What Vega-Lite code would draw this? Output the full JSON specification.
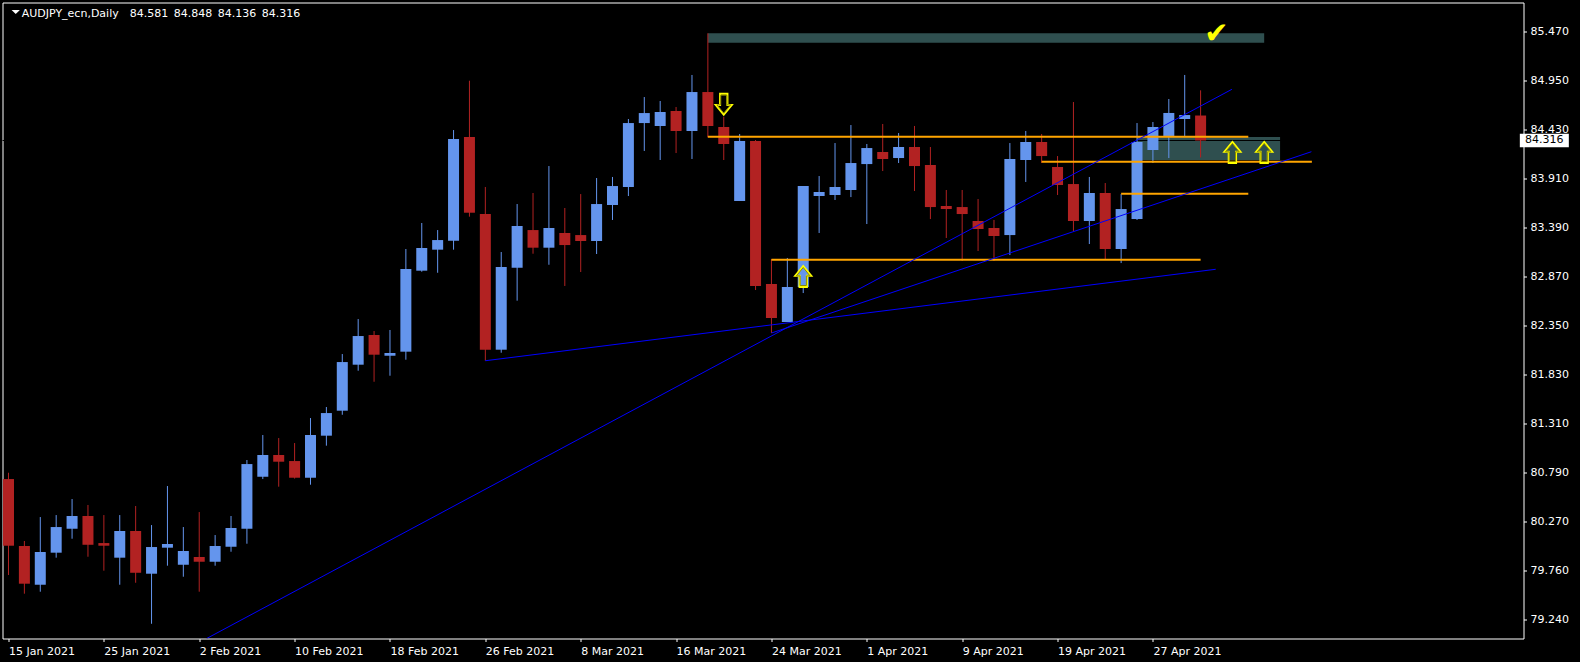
{
  "$schema": "https://vega.github.io/schema/vega-lite/v6.json",
  "width": 1521,
  "height": 636,
  "autosize": {"type": "none"},
  "padding": {"left": 2.5, "top": 2.5, "right": 56.5, "bottom": 23.5},
  "background": "#000000",
  "title": {"text": "AUDJPY_ecn,Daily\u2002\u200284.581\u200284.848\u200284.136\u200284.316", "anchor": "start", "frame": "group", "orient": "top", "offset": -14.7, "baseline": "alphabetic", "dx": 19.2, "dy": 10.7, "font": "DejaVu Sans", "fontSize": 11, "fontWeight": "normal", "color": "#FFFFFF"},
  "config": {
    "view": {"stroke": "#FFFFFF", "strokeWidth": 1, "fill": "#000000"},
    "axis": {"domain": false, "grid": false, "labelColor": "#FFFFFF", "tickColor": "#FFFFFF", "labelFont": "DejaVu Sans", "labelFontSize": 11, "tickSize": 3}
  },
  "datasets": {
    "candles": [
      {"i":0,"d":"2021-01-15","o":80.725,"h":80.792,"l":79.707,"c":80.018},
      {"i":1,"d":"2021-01-18","o":80.015,"h":80.068,"l":79.509,"c":79.615},
      {"i":2,"d":"2021-01-19","o":79.604,"h":80.322,"l":79.530,"c":79.951},
      {"i":3,"d":"2021-01-20","o":79.944,"h":80.343,"l":79.891,"c":80.216},
      {"i":4,"d":"2021-01-21","o":80.198,"h":80.513,"l":80.092,"c":80.333},
      {"i":5,"d":"2021-01-22","o":80.333,"h":80.450,"l":79.901,"c":80.028},
      {"i":6,"d":"2021-01-25","o":80.046,"h":80.343,"l":79.753,"c":80.018},
      {"i":7,"d":"2021-01-26","o":79.891,"h":80.343,"l":79.604,"c":80.174},
      {"i":8,"d":"2021-01-27","o":80.174,"h":80.439,"l":79.625,"c":79.731},
      {"i":9,"d":"2021-01-28","o":79.721,"h":80.237,"l":79.190,"c":80.004},
      {"i":10,"d":"2021-01-29","o":79.997,"h":80.651,"l":79.806,"c":80.036},
      {"i":11,"d":"2021-02-01","o":79.816,"h":80.216,"l":79.689,"c":79.962},
      {"i":12,"d":"2021-02-02","o":79.898,"h":80.375,"l":79.530,"c":79.848},
      {"i":13,"d":"2021-02-03","o":79.848,"h":80.131,"l":79.806,"c":80.015},
      {"i":14,"d":"2021-02-04","o":80.007,"h":80.333,"l":79.954,"c":80.206},
      {"i":15,"d":"2021-02-05","o":80.198,"h":80.927,"l":80.039,"c":80.884},
      {"i":16,"d":"2021-02-08","o":80.750,"h":81.192,"l":80.725,"c":80.980},
      {"i":17,"d":"2021-02-09","o":80.980,"h":81.160,"l":80.644,"c":80.909},
      {"i":18,"d":"2021-02-10","o":80.916,"h":81.107,"l":80.730,"c":80.739},
      {"i":19,"d":"2021-02-11","o":80.739,"h":81.372,"l":80.665,"c":81.192},
      {"i":20,"d":"2021-02-12","o":81.185,"h":81.489,"l":81.079,"c":81.425},
      {"i":21,"d":"2021-02-15","o":81.450,"h":82.051,"l":81.407,"c":81.966},
      {"i":22,"d":"2021-02-16","o":81.938,"h":82.422,"l":81.874,"c":82.242},
      {"i":23,"d":"2021-02-17","o":82.253,"h":82.295,"l":81.757,"c":82.044},
      {"i":24,"d":"2021-02-18","o":82.033,"h":82.306,"l":81.821,"c":82.062},
      {"i":25,"d":"2021-02-19","o":82.076,"h":83.165,"l":81.991,"c":82.953},
      {"i":26,"d":"2021-02-22","o":82.935,"h":83.441,"l":82.924,"c":83.176},
      {"i":27,"d":"2021-02-23","o":83.158,"h":83.366,"l":82.913,"c":83.260},
      {"i":28,"d":"2021-02-24","o":83.253,"h":84.427,"l":83.158,"c":84.332},
      {"i":29,"d":"2021-02-25","o":84.353,"h":84.950,"l":83.508,"c":83.550},
      {"i":30,"d":"2021-02-26","o":83.536,"h":83.823,"l":81.980,"c":82.097},
      {"i":31,"d":"2021-03-01","o":82.097,"h":83.133,"l":82.065,"c":82.974},
      {"i":32,"d":"2021-03-02","o":82.967,"h":83.642,"l":82.617,"c":83.409},
      {"i":33,"d":"2021-03-03","o":83.366,"h":83.759,"l":83.115,"c":83.179},
      {"i":34,"d":"2021-03-04","o":83.179,"h":84.045,"l":82.998,"c":83.388},
      {"i":35,"d":"2021-03-05","o":83.335,"h":83.600,"l":82.773,"c":83.207},
      {"i":36,"d":"2021-03-08","o":83.313,"h":83.748,"l":82.921,"c":83.250},
      {"i":37,"d":"2021-03-09","o":83.250,"h":83.918,"l":83.112,"c":83.642},
      {"i":38,"d":"2021-03-10","o":83.632,"h":83.929,"l":83.473,"c":83.833},
      {"i":39,"d":"2021-03-11","o":83.823,"h":84.544,"l":83.727,"c":84.501},
      {"i":40,"d":"2021-03-12","o":84.501,"h":84.777,"l":84.205,"c":84.607},
      {"i":41,"d":"2021-03-15","o":84.470,"h":84.735,"l":84.109,"c":84.618},
      {"i":42,"d":"2021-03-16","o":84.629,"h":84.671,"l":84.183,"c":84.417},
      {"i":43,"d":"2021-03-17","o":84.417,"h":85.011,"l":84.120,"c":84.830},
      {"i":44,"d":"2021-03-18","o":84.830,"h":85.453,"l":84.350,"c":84.470},
      {"i":45,"d":"2021-03-19","o":84.459,"h":84.568,"l":84.109,"c":84.279},
      {"i":46,"d":"2021-03-22","o":83.674,"h":84.385,"l":83.674,"c":84.311},
      {"i":47,"d":"2021-03-23","o":84.311,"h":84.321,"l":82.730,"c":82.773},
      {"i":48,"d":"2021-03-24","o":82.794,"h":83.059,"l":82.274,"c":82.433},
      {"i":49,"d":"2021-03-25","o":82.391,"h":83.070,"l":82.391,"c":82.762},
      {"i":50,"d":"2021-03-26","o":82.762,"h":83.833,"l":82.698,"c":83.833},
      {"i":51,"d":"2021-03-29","o":83.727,"h":83.939,"l":83.335,"c":83.770},
      {"i":52,"d":"2021-03-30","o":83.738,"h":84.289,"l":83.685,"c":83.823},
      {"i":53,"d":"2021-03-31","o":83.791,"h":84.480,"l":83.716,"c":84.077},
      {"i":54,"d":"2021-04-01","o":84.066,"h":84.279,"l":83.430,"c":84.236},
      {"i":55,"d":"2021-04-02","o":84.194,"h":84.491,"l":83.992,"c":84.120},
      {"i":56,"d":"2021-04-05","o":84.130,"h":84.395,"l":84.077,"c":84.247},
      {"i":57,"d":"2021-04-06","o":84.247,"h":84.470,"l":83.780,"c":84.045},
      {"i":58,"d":"2021-04-07","o":84.056,"h":84.247,"l":83.483,"c":83.610},
      {"i":59,"d":"2021-04-08","o":83.621,"h":83.791,"l":83.282,"c":83.589},
      {"i":60,"d":"2021-04-09","o":83.610,"h":83.791,"l":83.038,"c":83.536},
      {"i":61,"d":"2021-04-12","o":83.462,"h":83.695,"l":83.144,"c":83.377},
      {"i":62,"d":"2021-04-13","o":83.388,"h":83.473,"l":83.038,"c":83.303},
      {"i":63,"d":"2021-04-14","o":83.313,"h":84.289,"l":83.101,"c":84.120},
      {"i":64,"d":"2021-04-15","o":84.109,"h":84.417,"l":83.876,"c":84.300},
      {"i":65,"d":"2021-04-16","o":84.300,"h":84.385,"l":84.077,"c":84.151},
      {"i":66,"d":"2021-04-19","o":84.035,"h":84.151,"l":83.738,"c":83.844},
      {"i":67,"d":"2021-04-20","o":83.854,"h":84.724,"l":83.356,"c":83.462},
      {"i":68,"d":"2021-04-21","o":83.462,"h":83.929,"l":83.218,"c":83.759},
      {"i":69,"d":"2021-04-22","o":83.759,"h":83.865,"l":83.059,"c":83.165},
      {"i":70,"d":"2021-04-23","o":83.165,"h":83.748,"l":83.016,"c":83.589},
      {"i":71,"d":"2021-04-26","o":83.483,"h":84.501,"l":83.473,"c":84.300},
      {"i":72,"d":"2021-04-27","o":84.215,"h":84.512,"l":84.077,"c":84.459},
      {"i":73,"d":"2021-04-28","o":84.364,"h":84.756,"l":84.130,"c":84.608},
      {"i":74,"d":"2021-04-29","o":84.544,"h":85.011,"l":84.353,"c":84.586},
      {"i":75,"d":"2021-04-30","o":84.581,"h":84.848,"l":84.136,"c":84.316}
    ],
    "zones": [
      {"i1":44,"i2":79,"p1":85.353,"p2":85.453},
      {"i1":71,"i2":80,"p1":84.109,"p2":84.353}
    ],
    "bid": [{"p":84.316,"label":"84.316"}],
    "levels": [
      {"i1":44,"i2":78,"p":84.355},
      {"i1":65,"i2":82,"p":84.090},
      {"i1":70,"i2":78,"p":83.751},
      {"i1":48,"i2":75,"p":83.051}
    ],
    "trend": [
      {"id":"a","i":30,"p":81.980},
      {"id":"a","i":75.95,"p":82.950},
      {"id":"b","i":12.47,"p":79.034},
      {"id":"b","i":76.97,"p":84.859},
      {"id":"c","i":48,"p":82.274},
      {"id":"c","i":81.97,"p":84.197}
    ],
    "up": [
      {"i":50,"p":82.873},
      {"i":77,"p":84.189},
      {"i":79,"p":84.189}
    ],
    "down": [{"i":45,"p":84.701}],
    "check": [{"i":76,"p":85.467,"s":"✔"}],
    "marker": [{"i":0.456,"p":85.679}]
  },
  "layer": [
    {
      "data": {"name": "zones"},
      "mark": {"type": "rect", "color": "#2F4F4F"},
      "encoding": {
        "x": {"field": "i1", "type": "quantitative", "scale": {"domain": [-0.0625, 95], "nice": false, "zero": false}, "title": null},
        "x2": {"field": "i2"},
        "y": {"field": "p1", "type": "quantitative", "scale": {"domain": [79.0338, 85.7797], "nice": false, "zero": false}, "title": null},
        "y2": {"field": "p2"}
      }
    },
    {
      "data": {"name": "bid"},
      "mark": {"type": "rule", "color": "#000000", "strokeWidth": 1},
      "encoding": {
        "y": {"field": "p", "type": "quantitative", "scale": {"domain": [79.0338, 85.7797], "nice": false, "zero": false}, "title": null}
      }
    },
    {
      "data": {"name": "candles"},
      "mark": {"type": "rule", "strokeWidth": 1},
      "encoding": {
        "x": {"field": "i", "type": "quantitative", "scale": {"domain": [-0.0625, 95], "nice": false, "zero": false}, "title": null,
          "axis": {"orient": "bottom", "title": null, "values": [0,6,12,18,24,30,36,42,48,54,60,66,72],
            "labelExpr": "['15 Jan 2021','25 Jan 2021','2 Feb 2021','10 Feb 2021','18 Feb 2021','26 Feb 2021','8 Mar 2021','16 Mar 2021','24 Mar 2021','1 Apr 2021','9 Apr 2021','19 Apr 2021','27 Apr 2021'][round(datum.value/6)]",
            "labelAlign": "left", "labelBaseline": "top", "labelPadding": 3.5, "tickSize": 3, "labelOverlap": false, "labelBound": false, "labelFlush": false}},
        "y": {"field": "l", "type": "quantitative", "scale": {"domain": [79.0338, 85.7797], "nice": false, "zero": false}, "title": null,
          "axis": {"orient": "right", "title": null, "values": [85.47,84.95,84.43,83.91,83.39,82.87,82.35,81.83,81.31,80.79,80.27,79.76,79.24],
            "format": ".3f", "labelAlign": "left", "labelBaseline": "middle", "labelPadding": 3.5, "tickSize": 3, "labelOverlap": false, "labelBound": false, "labelFlush": false}},
        "y2": {"field": "h"},
        "color": {"condition": {"test": "datum.c < datum.o", "value": "#B22222"}, "value": "#6495ED"}
      }
    },
    {
      "data": {"name": "candles"},
      "mark": {"type": "bar", "size": 11, "orient": "vertical"},
      "encoding": {
        "x": {"field": "i", "type": "quantitative", "scale": {"domain": [-0.0625, 95], "nice": false, "zero": false}, "title": null},
        "y": {"field": "o", "type": "quantitative", "scale": {"domain": [79.0338, 85.7797], "nice": false, "zero": false}, "title": null},
        "y2": {"field": "c"},
        "color": {"condition": {"test": "datum.c < datum.o", "value": "#B22222"}, "value": "#6495ED"}
      }
    },
    {
      "data": {"name": "levels"},
      "mark": {"type": "rule", "color": "#FFA500", "strokeWidth": 2},
      "encoding": {
        "x": {"field": "i1", "type": "quantitative", "scale": {"domain": [-0.0625, 95], "nice": false, "zero": false}, "title": null},
        "x2": {"field": "i2"},
        "y": {"field": "p", "type": "quantitative", "scale": {"domain": [79.0338, 85.7797], "nice": false, "zero": false}, "title": null}
      }
    },
    {
      "data": {"name": "trend"},
      "mark": {"type": "line", "color": "#0000FF", "strokeWidth": 1, "clip": true},
      "encoding": {
        "x": {"field": "i", "type": "quantitative", "scale": {"domain": [-0.0625, 95], "nice": false, "zero": false}, "title": null},
        "y": {"field": "p", "type": "quantitative", "scale": {"domain": [79.0338, 85.7797], "nice": false, "zero": false}, "title": null},
        "detail": {"field": "id", "type": "nominal"}
      }
    },
    {
      "data": {"name": "up"},
      "mark": {"type": "point", "shape": "M0,-1L0.76,-0.07L0.35,-0.07L0.35,1L-0.35,1L-0.35,-0.07L-0.76,-0.07Z", "size": 441, "filled": false, "stroke": "#FFFF00", "strokeWidth": 2, "opacity": 1},
      "encoding": {
        "x": {"field": "i", "type": "quantitative", "scale": {"domain": [-0.0625, 95], "nice": false, "zero": false}, "title": null},
        "y": {"field": "p", "type": "quantitative", "scale": {"domain": [79.0338, 85.7797], "nice": false, "zero": false}, "title": null}
      }
    },
    {
      "data": {"name": "up"},
      "mark": {"type": "point", "shape": "M0,-1L0.76,-0.07L0.35,-0.07L0.35,1L-0.35,1L-0.35,-0.07L-0.76,-0.07Z", "size": 324, "filled": false, "stroke": "#8A8A00", "strokeWidth": 1, "opacity": 1},
      "encoding": {
        "x": {"field": "i", "type": "quantitative", "scale": {"domain": [-0.0625, 95], "nice": false, "zero": false}, "title": null},
        "y": {"field": "p", "type": "quantitative", "scale": {"domain": [79.0338, 85.7797], "nice": false, "zero": false}, "title": null}
      }
    },
    {
      "data": {"name": "down"},
      "mark": {"type": "point", "shape": "M0,1L0.76,0.07L0.35,0.07L0.35,-1L-0.35,-1L-0.35,0.07L-0.76,0.07Z", "size": 441, "filled": false, "stroke": "#FFFF00", "strokeWidth": 2, "opacity": 1},
      "encoding": {
        "x": {"field": "i", "type": "quantitative", "scale": {"domain": [-0.0625, 95], "nice": false, "zero": false}, "title": null},
        "y": {"field": "p", "type": "quantitative", "scale": {"domain": [79.0338, 85.7797], "nice": false, "zero": false}, "title": null}
      }
    },
    {
      "data": {"name": "down"},
      "mark": {"type": "point", "shape": "M0,1L0.76,0.07L0.35,0.07L0.35,-1L-0.35,-1L-0.35,0.07L-0.76,0.07Z", "size": 324, "filled": false, "stroke": "#8A8A00", "strokeWidth": 1, "opacity": 1},
      "encoding": {
        "x": {"field": "i", "type": "quantitative", "scale": {"domain": [-0.0625, 95], "nice": false, "zero": false}, "title": null},
        "y": {"field": "p", "type": "quantitative", "scale": {"domain": [79.0338, 85.7797], "nice": false, "zero": false}, "title": null}
      }
    },
    {
      "data": {"name": "check"},
      "mark": {"type": "text", "color": "#FFFF00", "font": "DejaVu Sans", "fontSize": 29, "align": "center", "baseline": "middle", "dy": 2},
      "encoding": {
        "x": {"field": "i", "type": "quantitative", "scale": {"domain": [-0.0625, 95], "nice": false, "zero": false}, "title": null},
        "y": {"field": "p", "type": "quantitative", "scale": {"domain": [79.0338, 85.7797], "nice": false, "zero": false}, "title": null},
        "text": {"field": "s"}
      }
    },
    {
      "data": {"name": "marker"},
      "mark": {"type": "point", "shape": "M-1,-0.48L1,-0.48L0,0.48Z", "size": 69, "filled": true, "color": "#FFFFFF", "opacity": 1},
      "encoding": {
        "x": {"field": "i", "type": "quantitative", "scale": {"domain": [-0.0625, 95], "nice": false, "zero": false}, "title": null},
        "y": {"field": "p", "type": "quantitative", "scale": {"domain": [79.0338, 85.7797], "nice": false, "zero": false}, "title": null}
      }
    },
    {
      "data": {"name": "bid"},
      "mark": {"type": "point", "shape": "M-1,-0.272L1,-0.272L1,0.272L-1,0.272Z", "size": 2401, "filled": true, "color": "#FFFFFF", "opacity": 1, "clip": false},
      "encoding": {
        "x": {"datum": 96.625, "type": "quantitative", "scale": {"domain": [-0.0625, 95], "nice": false, "zero": false}, "title": null},
        "y": {"field": "p", "type": "quantitative", "scale": {"domain": [79.0338, 85.7797], "nice": false, "zero": false}, "title": null}
      }
    },
    {
      "data": {"name": "bid"},
      "mark": {"type": "text", "color": "#000000", "font": "DejaVu Sans", "fontSize": 11, "align": "left", "baseline": "middle", "clip": false},
      "encoding": {
        "x": {"datum": 95.41, "type": "quantitative", "scale": {"domain": [-0.0625, 95], "nice": false, "zero": false}, "title": null},
        "y": {"field": "p", "type": "quantitative", "scale": {"domain": [79.0338, 85.7797], "nice": false, "zero": false}, "title": null},
        "text": {"field": "label"}
      }
    }
  ]
}
